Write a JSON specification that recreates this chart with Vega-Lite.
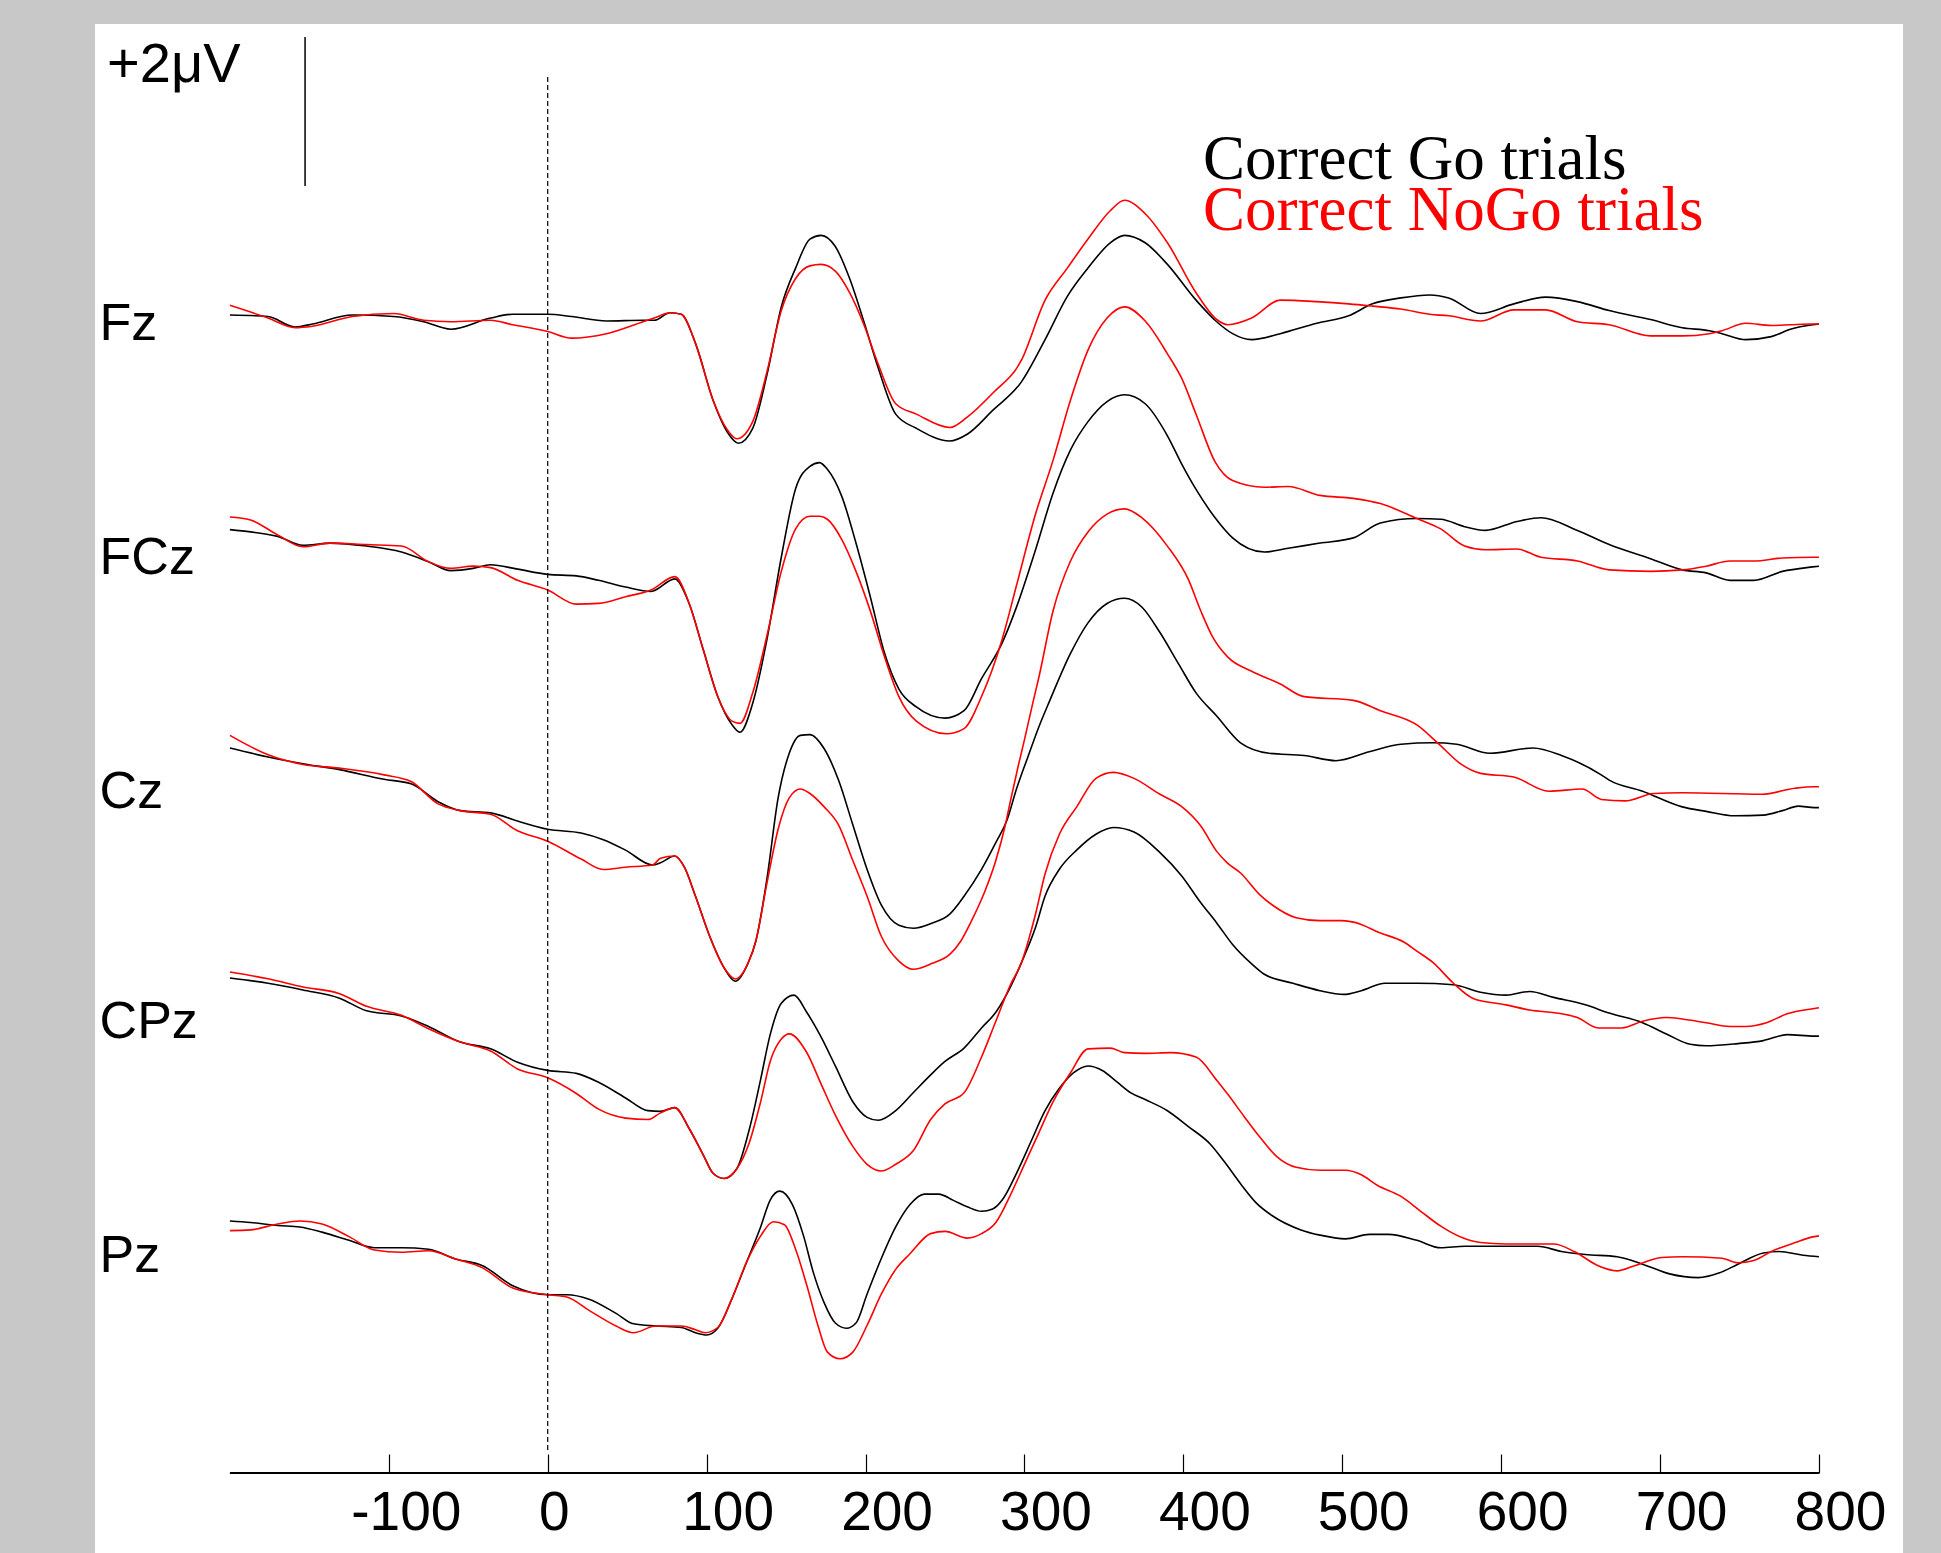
{
"$schema": "https://vega.github.io/schema/vega-lite/v6.json",
"width": 1941, "height": 1553,
"autosize": {"type": "fit", "contains": "padding"},
"padding": {"left": 95, "top": 24, "right": 38, "bottom": 0},
"background": "#c8c8c8",
"config": {"view": {"fill": "white", "stroke": null}, "axisX": {"title": null, "grid": false, "domain": false}},
"datasets": {
"Fz": [
{"c":"Go","t":-200,"v":0.08},{"c":"Go","t":-176,"v":0.06},{"c":"Go","t":-159,"v":-0.08},{"c":"Go","t":-148,"v":-0.04},{"c":"Go","t":-123,"v":0.08},{"c":"Go","t":-97,"v":0.06},{"c":"Go","t":-78,"v":-0.01},{"c":"Go","t":-61,"v":-0.11},{"c":"Go","t":-36,"v":0.04},{"c":"Go","t":-22,"v":0.09},{"c":"Go","t":0,"v":0.09},{"c":"Go","t":15,"v":0.06},{"c":"Go","t":37,"v":0.0},{"c":"Go","t":60,"v":0.01},{"c":"Go","t":67,"v":0.01},{"c":"Go","t":77,"v":0.11},{"c":"Go","t":84,"v":0.09},{"c":"Go","t":93,"v":-0.3},{"c":"Go","t":104,"v":-1.06},{"c":"Go","t":113,"v":-1.49},{"c":"Go","t":120,"v":-1.64},{"c":"Go","t":129,"v":-1.44},{"c":"Go","t":138,"v":-0.72},{"c":"Go","t":147,"v":0.19},{"c":"Go","t":156,"v":0.71},{"c":"Go","t":165,"v":1.1},{"c":"Go","t":172,"v":1.15},{"c":"Go","t":181,"v":1.0},{"c":"Go","t":190,"v":0.57},{"c":"Go","t":199,"v":-0.01},{"c":"Go","t":208,"v":-0.63},{"c":"Go","t":219,"v":-1.25},{"c":"Go","t":232,"v":-1.44},{"c":"Go","t":253,"v":-1.61},{"c":"Go","t":264,"v":-1.52},{"c":"Go","t":280,"v":-1.2},{"c":"Go","t":298,"v":-0.82},{"c":"Go","t":313,"v":-0.25},{"c":"Go","t":327,"v":0.33},{"c":"Go","t":340,"v":0.71},{"c":"Go","t":354,"v":1.05},{"c":"Go","t":363,"v":1.15},{"c":"Go","t":376,"v":1.05},{"c":"Go","t":390,"v":0.76},{"c":"Go","t":408,"v":0.28},{"c":"Go","t":421,"v":-0.01},{"c":"Go","t":431,"v":-0.17},{"c":"Go","t":443,"v":-0.25},{"c":"Go","t":461,"v":-0.17},{"c":"Go","t":484,"v":-0.03},{"c":"Go","t":504,"v":0.07},{"c":"Go","t":519,"v":0.23},{"c":"Go","t":537,"v":0.31},{"c":"Go","t":555,"v":0.35},{"c":"Go","t":567,"v":0.31},{"c":"Go","t":587,"v":0.1},{"c":"Go","t":608,"v":0.23},{"c":"Go","t":628,"v":0.32},{"c":"Go","t":648,"v":0.26},{"c":"Go","t":668,"v":0.14},{"c":"Go","t":694,"v":0.02},{"c":"Go","t":714,"v":-0.09},{"c":"Go","t":731,"v":-0.13},{"c":"Go","t":739,"v":-0.17},{"c":"Go","t":754,"v":-0.25},{"c":"Go","t":770,"v":-0.21},{"c":"Go","t":782,"v":-0.11},{"c":"Go","t":796,"v":-0.05},{"c":"Go","t":800,"v":-0.04},
{"c":"NoGo","t":-200,"v":0.21},{"c":"NoGo","t":-176,"v":0.04},{"c":"NoGo","t":-159,"v":-0.09},{"c":"NoGo","t":-148,"v":-0.07},{"c":"NoGo","t":-123,"v":0.06},{"c":"NoGo","t":-97,"v":0.1},{"c":"NoGo","t":-78,"v":0.01},{"c":"NoGo","t":-61,"v":-0.01},{"c":"NoGo","t":-36,"v":0.01},{"c":"NoGo","t":-22,"v":-0.05},{"c":"NoGo","t":0,"v":-0.14},{"c":"NoGo","t":15,"v":-0.23},{"c":"NoGo","t":37,"v":-0.17},{"c":"NoGo","t":60,"v":-0.01},{"c":"NoGo","t":67,"v":0.04},{"c":"NoGo","t":77,"v":0.11},{"c":"NoGo","t":84,"v":0.09},{"c":"NoGo","t":93,"v":-0.3},{"c":"NoGo","t":104,"v":-1.06},{"c":"NoGo","t":113,"v":-1.46},{"c":"NoGo","t":119,"v":-1.58},{"c":"NoGo","t":129,"v":-1.35},{"c":"NoGo","t":138,"v":-0.68},{"c":"NoGo","t":147,"v":0.14},{"c":"NoGo","t":156,"v":0.57},{"c":"NoGo","t":165,"v":0.74},{"c":"NoGo","t":172,"v":0.76},{"c":"NoGo","t":181,"v":0.67},{"c":"NoGo","t":190,"v":0.38},{"c":"NoGo","t":199,"v":-0.05},{"c":"NoGo","t":208,"v":-0.58},{"c":"NoGo","t":219,"v":-1.11},{"c":"NoGo","t":232,"v":-1.25},{"c":"NoGo","t":253,"v":-1.43},{"c":"NoGo","t":264,"v":-1.29},{"c":"NoGo","t":280,"v":-0.97},{"c":"NoGo","t":298,"v":-0.53},{"c":"NoGo","t":313,"v":0.28},{"c":"NoGo","t":327,"v":0.71},{"c":"NoGo","t":340,"v":1.1},{"c":"NoGo","t":354,"v":1.48},{"c":"NoGo","t":363,"v":1.62},{"c":"NoGo","t":376,"v":1.44},{"c":"NoGo","t":390,"v":1.05},{"c":"NoGo","t":408,"v":0.38},{"c":"NoGo","t":421,"v":0.02},{"c":"NoGo","t":428,"v":-0.05},{"c":"NoGo","t":443,"v":0.04},{"c":"NoGo","t":461,"v":0.28},{"c":"NoGo","t":484,"v":0.26},{"c":"NoGo","t":504,"v":0.23},{"c":"NoGo","t":519,"v":0.2},{"c":"NoGo","t":537,"v":0.16},{"c":"NoGo","t":555,"v":0.09},{"c":"NoGo","t":567,"v":0.07},{"c":"NoGo","t":587,"v":0.0},{"c":"NoGo","t":608,"v":0.15},{"c":"NoGo","t":628,"v":0.15},{"c":"NoGo","t":648,"v":-0.01},{"c":"NoGo","t":668,"v":-0.05},{"c":"NoGo","t":694,"v":-0.2},{"c":"NoGo","t":714,"v":-0.2},{"c":"NoGo","t":731,"v":-0.17},{"c":"NoGo","t":739,"v":-0.13},{"c":"NoGo","t":754,"v":-0.03},{"c":"NoGo","t":770,"v":-0.06},{"c":"NoGo","t":782,"v":-0.05},{"c":"NoGo","t":796,"v":-0.04},{"c":"NoGo","t":800,"v":-0.04}
],
"FCz": [
{"c":"Go","t":-200,"v":0.34},{"c":"Go","t":-187,"v":0.31},{"c":"Go","t":-170,"v":0.25},{"c":"Go","t":-154,"v":0.13},{"c":"Go","t":-137,"v":0.16},{"c":"Go","t":-114,"v":0.12},{"c":"Go","t":-92,"v":0.04},{"c":"Go","t":-75,"v":-0.09},{"c":"Go","t":-61,"v":-0.21},{"c":"Go","t":-47,"v":-0.18},{"c":"Go","t":-36,"v":-0.13},{"c":"Go","t":-19,"v":-0.19},{"c":"Go","t":0,"v":-0.26},{"c":"Go","t":18,"v":-0.28},{"c":"Go","t":32,"v":-0.34},{"c":"Go","t":49,"v":-0.43},{"c":"Go","t":65,"v":-0.49},{"c":"Go","t":80,"v":-0.32},{"c":"Go","t":89,"v":-0.65},{"c":"Go","t":98,"v":-1.28},{"c":"Go","t":107,"v":-1.9},{"c":"Go","t":116,"v":-2.28},{"c":"Go","t":121,"v":-2.38},{"c":"Go","t":129,"v":-1.99},{"c":"Go","t":138,"v":-1.13},{"c":"Go","t":147,"v":-0.03},{"c":"Go","t":156,"v":0.89},{"c":"Go","t":165,"v":1.19},{"c":"Go","t":171,"v":1.24},{"c":"Go","t":176,"v":1.15},{"c":"Go","t":185,"v":0.79},{"c":"Go","t":194,"v":0.16},{"c":"Go","t":203,"v":-0.56},{"c":"Go","t":212,"v":-1.32},{"c":"Go","t":221,"v":-1.8},{"c":"Go","t":232,"v":-2.04},{"c":"Go","t":250,"v":-2.19},{"c":"Go","t":262,"v":-2.09},{"c":"Go","t":273,"v":-1.66},{"c":"Go","t":286,"v":-1.18},{"c":"Go","t":295,"v":-0.7},{"c":"Go","t":307,"v":0.07},{"c":"Go","t":318,"v":0.83},{"c":"Go","t":329,"v":1.41},{"c":"Go","t":340,"v":1.79},{"c":"Go","t":352,"v":2.06},{"c":"Go","t":363,"v":2.15},{"c":"Go","t":376,"v":2.03},{"c":"Go","t":390,"v":1.6},{"c":"Go","t":399,"v":1.22},{"c":"Go","t":408,"v":0.88},{"c":"Go","t":420,"v":0.5},{"c":"Go","t":431,"v":0.23},{"c":"Go","t":451,"v":0.04},{"c":"Go","t":466,"v":0.09},{"c":"Go","t":486,"v":0.16},{"c":"Go","t":507,"v":0.23},{"c":"Go","t":524,"v":0.43},{"c":"Go","t":547,"v":0.49},{"c":"Go","t":562,"v":0.48},{"c":"Go","t":577,"v":0.38},{"c":"Go","t":590,"v":0.33},{"c":"Go","t":610,"v":0.45},{"c":"Go","t":625,"v":0.5},{"c":"Go","t":648,"v":0.33},{"c":"Go","t":668,"v":0.14},{"c":"Go","t":694,"v":-0.05},{"c":"Go","t":714,"v":-0.2},{"c":"Go","t":729,"v":-0.24},{"c":"Go","t":744,"v":-0.34},{"c":"Go","t":759,"v":-0.34},{"c":"Go","t":777,"v":-0.22},{"c":"Go","t":796,"v":-0.16},{"c":"Go","t":800,"v":-0.15},
{"c":"NoGo","t":-200,"v":0.51},{"c":"NoGo","t":-187,"v":0.47},{"c":"NoGo","t":-170,"v":0.27},{"c":"NoGo","t":-154,"v":0.11},{"c":"NoGo","t":-137,"v":0.16},{"c":"NoGo","t":-114,"v":0.14},{"c":"NoGo","t":-92,"v":0.12},{"c":"NoGo","t":-75,"v":-0.09},{"c":"NoGo","t":-61,"v":-0.18},{"c":"NoGo","t":-47,"v":-0.15},{"c":"NoGo","t":-36,"v":-0.17},{"c":"NoGo","t":-19,"v":-0.34},{"c":"NoGo","t":0,"v":-0.47},{"c":"NoGo","t":18,"v":-0.66},{"c":"NoGo","t":32,"v":-0.65},{"c":"NoGo","t":49,"v":-0.56},{"c":"NoGo","t":65,"v":-0.47},{"c":"NoGo","t":80,"v":-0.29},{"c":"NoGo","t":89,"v":-0.65},{"c":"NoGo","t":98,"v":-1.28},{"c":"NoGo","t":107,"v":-1.9},{"c":"NoGo","t":116,"v":-2.23},{"c":"NoGo","t":121,"v":-2.26},{"c":"NoGo","t":129,"v":-1.85},{"c":"NoGo","t":138,"v":-1.08},{"c":"NoGo","t":147,"v":-0.22},{"c":"NoGo","t":156,"v":0.35},{"c":"NoGo","t":165,"v":0.52},{"c":"NoGo","t":171,"v":0.52},{"c":"NoGo","t":176,"v":0.48},{"c":"NoGo","t":185,"v":0.21},{"c":"NoGo","t":194,"v":-0.22},{"c":"NoGo","t":203,"v":-0.75},{"c":"NoGo","t":212,"v":-1.37},{"c":"NoGo","t":221,"v":-1.9},{"c":"NoGo","t":232,"v":-2.23},{"c":"NoGo","t":251,"v":-2.4},{"c":"NoGo","t":262,"v":-2.33},{"c":"NoGo","t":273,"v":-1.9},{"c":"NoGo","t":286,"v":-1.13},{"c":"NoGo","t":295,"v":-0.41},{"c":"NoGo","t":307,"v":0.55},{"c":"NoGo","t":318,"v":1.27},{"c":"NoGo","t":329,"v":2.08},{"c":"NoGo","t":340,"v":2.75},{"c":"NoGo","t":352,"v":3.18},{"c":"NoGo","t":363,"v":3.33},{"c":"NoGo","t":376,"v":3.14},{"c":"NoGo","t":390,"v":2.7},{"c":"NoGo","t":399,"v":2.37},{"c":"NoGo","t":408,"v":1.89},{"c":"NoGo","t":420,"v":1.25},{"c":"NoGo","t":431,"v":1.0},{"c":"NoGo","t":451,"v":0.91},{"c":"NoGo","t":466,"v":0.92},{"c":"NoGo","t":486,"v":0.8},{"c":"NoGo","t":507,"v":0.76},{"c":"NoGo","t":524,"v":0.69},{"c":"NoGo","t":547,"v":0.49},{"c":"NoGo","t":562,"v":0.35},{"c":"NoGo","t":577,"v":0.12},{"c":"NoGo","t":590,"v":0.07},{"c":"NoGo","t":610,"v":0.08},{"c":"NoGo","t":625,"v":-0.03},{"c":"NoGo","t":648,"v":-0.08},{"c":"NoGo","t":668,"v":-0.2},{"c":"NoGo","t":694,"v":-0.22},{"c":"NoGo","t":714,"v":-0.2},{"c":"NoGo","t":729,"v":-0.15},{"c":"NoGo","t":744,"v":-0.08},{"c":"NoGo","t":759,"v":-0.08},{"c":"NoGo","t":777,"v":-0.04},{"c":"NoGo","t":796,"v":-0.03},{"c":"NoGo","t":800,"v":-0.03}
],
"Cz": [
{"c":"Go","t":-200,"v":0.55},{"c":"Go","t":-176,"v":0.43},{"c":"Go","t":-154,"v":0.34},{"c":"Go","t":-131,"v":0.26},{"c":"Go","t":-103,"v":0.13},{"c":"Go","t":-86,"v":0.07},{"c":"Go","t":-69,"v":-0.17},{"c":"Go","t":-55,"v":-0.29},{"c":"Go","t":-36,"v":-0.32},{"c":"Go","t":-19,"v":-0.43},{"c":"Go","t":0,"v":-0.54},{"c":"Go","t":21,"v":-0.59},{"c":"Go","t":35,"v":-0.68},{"c":"Go","t":49,"v":-0.82},{"c":"Go","t":66,"v":-1.02},{"c":"Go","t":71,"v":-0.99},{"c":"Go","t":80,"v":-0.9},{"c":"Go","t":86,"v":-1.05},{"c":"Go","t":93,"v":-1.44},{"c":"Go","t":102,"v":-1.98},{"c":"Go","t":111,"v":-2.4},{"c":"Go","t":118,"v":-2.58},{"c":"Go","t":126,"v":-2.34},{"c":"Go","t":131,"v":-2.04},{"c":"Go","t":138,"v":-1.2},{"c":"Go","t":145,"v":-0.12},{"c":"Go","t":152,"v":0.48},{"c":"Go","t":159,"v":0.72},{"c":"Go","t":165,"v":0.73},{"c":"Go","t":174,"v":0.54},{"c":"Go","t":183,"v":0.12},{"c":"Go","t":192,"v":-0.48},{"c":"Go","t":201,"v":-1.08},{"c":"Go","t":210,"v":-1.56},{"c":"Go","t":221,"v":-1.83},{"c":"Go","t":230,"v":-1.87},{"c":"Go","t":242,"v":-1.8},{"c":"Go","t":253,"v":-1.68},{"c":"Go","t":262,"v":-1.44},{"c":"Go","t":273,"v":-1.08},{"c":"Go","t":282,"v":-0.72},{"c":"Go","t":289,"v":-0.42},{"c":"Go","t":295,"v":0.0},{"c":"Go","t":302,"v":0.42},{"c":"Go","t":309,"v":0.83},{"c":"Go","t":316,"v":1.19},{"c":"Go","t":329,"v":1.82},{"c":"Go","t":340,"v":2.23},{"c":"Go","t":352,"v":2.49},{"c":"Go","t":363,"v":2.56},{"c":"Go","t":374,"v":2.44},{"c":"Go","t":385,"v":2.11},{"c":"Go","t":397,"v":1.68},{"c":"Go","t":408,"v":1.29},{"c":"Go","t":421,"v":0.98},{"c":"Go","t":436,"v":0.62},{"c":"Go","t":454,"v":0.48},{"c":"Go","t":476,"v":0.45},{"c":"Go","t":496,"v":0.38},{"c":"Go","t":517,"v":0.5},{"c":"Go","t":537,"v":0.6},{"c":"Go","t":557,"v":0.62},{"c":"Go","t":572,"v":0.6},{"c":"Go","t":593,"v":0.48},{"c":"Go","t":620,"v":0.55},{"c":"Go","t":638,"v":0.45},{"c":"Go","t":663,"v":0.19},{"c":"Go","t":668,"v":0.12},{"c":"Go","t":689,"v":-0.03},{"c":"Go","t":714,"v":-0.24},{"c":"Go","t":729,"v":-0.3},{"c":"Go","t":747,"v":-0.36},{"c":"Go","t":765,"v":-0.35},{"c":"Go","t":777,"v":-0.29},{"c":"Go","t":787,"v":-0.23},{"c":"Go","t":797,"v":-0.25},{"c":"Go","t":800,"v":-0.25},
{"c":"NoGo","t":-200,"v":0.72},{"c":"NoGo","t":-176,"v":0.46},{"c":"NoGo","t":-154,"v":0.33},{"c":"NoGo","t":-131,"v":0.28},{"c":"NoGo","t":-103,"v":0.19},{"c":"NoGo","t":-86,"v":0.1},{"c":"NoGo","t":-69,"v":-0.2},{"c":"NoGo","t":-55,"v":-0.29},{"c":"NoGo","t":-36,"v":-0.34},{"c":"NoGo","t":-19,"v":-0.56},{"c":"NoGo","t":0,"v":-0.7},{"c":"NoGo","t":21,"v":-0.94},{"c":"NoGo","t":35,"v":-1.08},{"c":"NoGo","t":49,"v":-1.05},{"c":"NoGo","t":66,"v":-1.02},{"c":"NoGo","t":71,"v":-0.93},{"c":"NoGo","t":80,"v":-0.9},{"c":"NoGo","t":86,"v":-1.05},{"c":"NoGo","t":93,"v":-1.44},{"c":"NoGo","t":102,"v":-1.98},{"c":"NoGo","t":111,"v":-2.4},{"c":"NoGo","t":118,"v":-2.55},{"c":"NoGo","t":126,"v":-2.34},{"c":"NoGo","t":131,"v":-2.04},{"c":"NoGo","t":138,"v":-1.26},{"c":"NoGo","t":145,"v":-0.54},{"c":"NoGo","t":152,"v":-0.12},{"c":"NoGo","t":159,"v":0.0},{"c":"NoGo","t":165,"v":-0.06},{"c":"NoGo","t":174,"v":-0.24},{"c":"NoGo","t":183,"v":-0.48},{"c":"NoGo","t":192,"v":-0.96},{"c":"NoGo","t":201,"v":-1.44},{"c":"NoGo","t":210,"v":-1.98},{"c":"NoGo","t":221,"v":-2.31},{"c":"NoGo","t":230,"v":-2.42},{"c":"NoGo","t":242,"v":-2.34},{"c":"NoGo","t":253,"v":-2.22},{"c":"NoGo","t":260,"v":-2.04},{"c":"NoGo","t":266,"v":-1.8},{"c":"NoGo","t":275,"v":-1.38},{"c":"NoGo","t":282,"v":-0.96},{"c":"NoGo","t":288,"v":-0.48},{"c":"NoGo","t":291,"v":-0.18},{"c":"NoGo","t":296,"v":0.3},{"c":"NoGo","t":300,"v":0.66},{"c":"NoGo","t":305,"v":1.13},{"c":"NoGo","t":309,"v":1.49},{"c":"NoGo","t":318,"v":2.39},{"c":"NoGo","t":329,"v":3.06},{"c":"NoGo","t":340,"v":3.45},{"c":"NoGo","t":352,"v":3.69},{"c":"NoGo","t":363,"v":3.76},{"c":"NoGo","t":374,"v":3.64},{"c":"NoGo","t":390,"v":3.26},{"c":"NoGo","t":403,"v":2.82},{"c":"NoGo","t":411,"v":2.39},{"c":"NoGo","t":418,"v":2.06},{"c":"NoGo","t":428,"v":1.77},{"c":"NoGo","t":443,"v":1.58},{"c":"NoGo","t":461,"v":1.41},{"c":"NoGo","t":476,"v":1.24},{"c":"NoGo","t":507,"v":1.19},{"c":"NoGo","t":524,"v":1.05},{"c":"NoGo","t":547,"v":0.86},{"c":"NoGo","t":560,"v":0.62},{"c":"NoGo","t":575,"v":0.33},{"c":"NoGo","t":587,"v":0.21},{"c":"NoGo","t":608,"v":0.16},{"c":"NoGo","t":630,"v":-0.03},{"c":"NoGo","t":651,"v":0.0},{"c":"NoGo","t":663,"v":-0.14},{"c":"NoGo","t":678,"v":-0.16},{"c":"NoGo","t":696,"v":-0.06},{"c":"NoGo","t":714,"v":-0.05},{"c":"NoGo","t":764,"v":-0.07},{"c":"NoGo","t":785,"v":0.01},{"c":"NoGo","t":797,"v":0.03},{"c":"NoGo","t":800,"v":0.03}
],
"CPz": [
{"c":"Go","t":-200,"v":0.55},{"c":"Go","t":-176,"v":0.48},{"c":"Go","t":-154,"v":0.39},{"c":"Go","t":-131,"v":0.28},{"c":"Go","t":-114,"v":0.11},{"c":"Go","t":-92,"v":0.04},{"c":"Go","t":-75,"v":-0.1},{"c":"Go","t":-55,"v":-0.31},{"c":"Go","t":-36,"v":-0.4},{"c":"Go","t":-19,"v":-0.58},{"c":"Go","t":0,"v":-0.69},{"c":"Go","t":18,"v":-0.73},{"c":"Go","t":32,"v":-0.85},{"c":"Go","t":49,"v":-1.06},{"c":"Go","t":63,"v":-1.23},{"c":"Go","t":71,"v":-1.24},{"c":"Go","t":80,"v":-1.19},{"c":"Go","t":89,"v":-1.47},{"c":"Go","t":98,"v":-1.83},{"c":"Go","t":104,"v":-2.07},{"c":"Go","t":111,"v":-2.14},{"c":"Go","t":119,"v":-2.01},{"c":"Go","t":127,"v":-1.47},{"c":"Go","t":134,"v":-0.81},{"c":"Go","t":140,"v":-0.21},{"c":"Go","t":147,"v":0.21},{"c":"Go","t":155,"v":0.32},{"c":"Go","t":163,"v":0.09},{"c":"Go","t":172,"v":-0.24},{"c":"Go","t":181,"v":-0.63},{"c":"Go","t":192,"v":-1.11},{"c":"Go","t":201,"v":-1.32},{"c":"Go","t":208,"v":-1.36},{"c":"Go","t":219,"v":-1.23},{"c":"Go","t":230,"v":-0.99},{"c":"Go","t":241,"v":-0.75},{"c":"Go","t":250,"v":-0.57},{"c":"Go","t":262,"v":-0.39},{"c":"Go","t":273,"v":-0.12},{"c":"Go","t":282,"v":0.09},{"c":"Go","t":291,"v":0.42},{"c":"Go","t":298,"v":0.75},{"c":"Go","t":307,"v":1.23},{"c":"Go","t":313,"v":1.65},{"c":"Go","t":322,"v":2.01},{"c":"Go","t":333,"v":2.27},{"c":"Go","t":345,"v":2.48},{"c":"Go","t":356,"v":2.57},{"c":"Go","t":369,"v":2.51},{"c":"Go","t":385,"v":2.24},{"c":"Go","t":399,"v":1.92},{"c":"Go","t":411,"v":1.56},{"c":"Go","t":421,"v":1.29},{"c":"Go","t":431,"v":1.0},{"c":"Go","t":443,"v":0.74},{"c":"Go","t":451,"v":0.6},{"c":"Go","t":469,"v":0.48},{"c":"Go","t":486,"v":0.38},{"c":"Go","t":501,"v":0.33},{"c":"Go","t":512,"v":0.38},{"c":"Go","t":527,"v":0.48},{"c":"Go","t":547,"v":0.48},{"c":"Go","t":570,"v":0.46},{"c":"Go","t":587,"v":0.36},{"c":"Go","t":603,"v":0.32},{"c":"Go","t":618,"v":0.37},{"c":"Go","t":633,"v":0.29},{"c":"Go","t":653,"v":0.19},{"c":"Go","t":668,"v":0.08},{"c":"Go","t":689,"v":-0.05},{"c":"Go","t":704,"v":-0.2},{"c":"Go","t":719,"v":-0.34},{"c":"Go","t":729,"v":-0.36},{"c":"Go","t":749,"v":-0.33},{"c":"Go","t":765,"v":-0.29},{"c":"Go","t":780,"v":-0.21},{"c":"Go","t":797,"v":-0.23},{"c":"Go","t":800,"v":-0.23},
{"c":"NoGo","t":-200,"v":0.63},{"c":"NoGo","t":-176,"v":0.54},{"c":"NoGo","t":-154,"v":0.43},{"c":"NoGo","t":-131,"v":0.34},{"c":"NoGo","t":-114,"v":0.17},{"c":"NoGo","t":-92,"v":0.05},{"c":"NoGo","t":-75,"v":-0.13},{"c":"NoGo","t":-55,"v":-0.31},{"c":"NoGo","t":-36,"v":-0.43},{"c":"NoGo","t":-19,"v":-0.67},{"c":"NoGo","t":0,"v":-0.79},{"c":"NoGo","t":18,"v":-1.0},{"c":"NoGo","t":32,"v":-1.21},{"c":"NoGo","t":49,"v":-1.33},{"c":"NoGo","t":63,"v":-1.35},{"c":"NoGo","t":71,"v":-1.26},{"c":"NoGo","t":80,"v":-1.19},{"c":"NoGo","t":89,"v":-1.47},{"c":"NoGo","t":98,"v":-1.83},{"c":"NoGo","t":104,"v":-2.07},{"c":"NoGo","t":111,"v":-2.14},{"c":"NoGo","t":119,"v":-2.01},{"c":"NoGo","t":127,"v":-1.65},{"c":"NoGo","t":134,"v":-1.11},{"c":"NoGo","t":140,"v":-0.57},{"c":"NoGo","t":147,"v":-0.27},{"c":"NoGo","t":152,"v":-0.2},{"c":"NoGo","t":163,"v":-0.45},{"c":"NoGo","t":172,"v":-0.87},{"c":"NoGo","t":181,"v":-1.29},{"c":"NoGo","t":192,"v":-1.71},{"c":"NoGo","t":201,"v":-1.95},{"c":"NoGo","t":210,"v":-2.04},{"c":"NoGo","t":219,"v":-1.95},{"c":"NoGo","t":230,"v":-1.77},{"c":"NoGo","t":241,"v":-1.35},{"c":"NoGo","t":250,"v":-1.14},{"c":"NoGo","t":262,"v":-0.99},{"c":"NoGo","t":273,"v":-0.51},{"c":"NoGo","t":282,"v":-0.03},{"c":"NoGo","t":291,"v":0.45},{"c":"NoGo","t":298,"v":0.75},{"c":"NoGo","t":307,"v":1.41},{"c":"NoGo","t":313,"v":1.95},{"c":"NoGo","t":322,"v":2.48},{"c":"NoGo","t":333,"v":2.85},{"c":"NoGo","t":345,"v":3.23},{"c":"NoGo","t":356,"v":3.31},{"c":"NoGo","t":369,"v":3.23},{"c":"NoGo","t":385,"v":3.02},{"c":"NoGo","t":399,"v":2.85},{"c":"NoGo","t":411,"v":2.59},{"c":"NoGo","t":421,"v":2.25},{"c":"NoGo","t":428,"v":2.09},{"c":"NoGo","t":436,"v":1.96},{"c":"NoGo","t":448,"v":1.67},{"c":"NoGo","t":456,"v":1.53},{"c":"NoGo","t":471,"v":1.36},{"c":"NoGo","t":486,"v":1.32},{"c":"NoGo","t":499,"v":1.32},{"c":"NoGo","t":512,"v":1.27},{"c":"NoGo","t":522,"v":1.17},{"c":"NoGo","t":539,"v":1.03},{"c":"NoGo","t":547,"v":0.91},{"c":"NoGo","t":557,"v":0.76},{"c":"NoGo","t":570,"v":0.48},{"c":"NoGo","t":582,"v":0.28},{"c":"NoGo","t":603,"v":0.19},{"c":"NoGo","t":618,"v":0.12},{"c":"NoGo","t":638,"v":0.07},{"c":"NoGo","t":648,"v":0.02},{"c":"NoGo","t":661,"v":-0.12},{"c":"NoGo","t":676,"v":-0.12},{"c":"NoGo","t":689,"v":-0.03},{"c":"NoGo","t":704,"v":0.02},{"c":"NoGo","t":714,"v":0.0},{"c":"NoGo","t":729,"v":-0.05},{"c":"NoGo","t":744,"v":-0.1},{"c":"NoGo","t":754,"v":-0.1},{"c":"NoGo","t":767,"v":-0.05},{"c":"NoGo","t":780,"v":0.07},{"c":"NoGo","t":797,"v":0.14},{"c":"NoGo","t":800,"v":0.15}
],
"Pz": [
{"c":"Go","t":-200,"v":0.43},{"c":"Go","t":-187,"v":0.41},{"c":"Go","t":-170,"v":0.37},{"c":"Go","t":-156,"v":0.35},{"c":"Go","t":-142,"v":0.28},{"c":"Go","t":-125,"v":0.17},{"c":"Go","t":-109,"v":0.07},{"c":"Go","t":-92,"v":0.07},{"c":"Go","t":-75,"v":0.05},{"c":"Go","t":-58,"v":-0.08},{"c":"Go","t":-41,"v":-0.17},{"c":"Go","t":-22,"v":-0.44},{"c":"Go","t":0,"v":-0.56},{"c":"Go","t":12,"v":-0.56},{"c":"Go","t":26,"v":-0.62},{"c":"Go","t":43,"v":-0.81},{"c":"Go","t":54,"v":-0.95},{"c":"Go","t":68,"v":-0.98},{"c":"Go","t":84,"v":-1.0},{"c":"Go","t":93,"v":-1.07},{"c":"Go","t":100,"v":-1.1},{"c":"Go","t":107,"v":-1.01},{"c":"Go","t":116,"v":-0.61},{"c":"Go","t":125,"v":-0.13},{"c":"Go","t":134,"v":0.35},{"c":"Go","t":140,"v":0.71},{"c":"Go","t":146,"v":0.83},{"c":"Go","t":154,"v":0.65},{"c":"Go","t":161,"v":0.23},{"c":"Go","t":167,"v":-0.25},{"c":"Go","t":174,"v":-0.67},{"c":"Go","t":181,"v":-0.94},{"c":"Go","t":188,"v":-1.01},{"c":"Go","t":194,"v":-0.94},{"c":"Go","t":201,"v":-0.55},{"c":"Go","t":210,"v":-0.07},{"c":"Go","t":219,"v":0.35},{"c":"Go","t":228,"v":0.65},{"c":"Go","t":237,"v":0.79},{"c":"Go","t":246,"v":0.79},{"c":"Go","t":255,"v":0.71},{"c":"Go","t":264,"v":0.62},{"c":"Go","t":273,"v":0.56},{"c":"Go","t":280,"v":0.59},{"c":"Go","t":286,"v":0.71},{"c":"Go","t":295,"v":1.07},{"c":"Go","t":304,"v":1.49},{"c":"Go","t":313,"v":1.91},{"c":"Go","t":322,"v":2.21},{"c":"Go","t":331,"v":2.42},{"c":"Go","t":340,"v":2.51},{"c":"Go","t":349,"v":2.45},{"c":"Go","t":358,"v":2.3},{"c":"Go","t":367,"v":2.15},{"c":"Go","t":376,"v":2.06},{"c":"Go","t":390,"v":1.91},{"c":"Go","t":403,"v":1.7},{"c":"Go","t":417,"v":1.46},{"c":"Go","t":426,"v":1.22},{"c":"Go","t":436,"v":0.93},{"c":"Go","t":446,"v":0.67},{"c":"Go","t":456,"v":0.5},{"c":"Go","t":474,"v":0.31},{"c":"Go","t":486,"v":0.24},{"c":"Go","t":502,"v":0.19},{"c":"Go","t":517,"v":0.25},{"c":"Go","t":529,"v":0.25},{"c":"Go","t":547,"v":0.17},{"c":"Go","t":562,"v":0.07},{"c":"Go","t":577,"v":0.09},{"c":"Go","t":603,"v":0.09},{"c":"Go","t":623,"v":0.09},{"c":"Go","t":638,"v":0.02},{"c":"Go","t":653,"v":-0.02},{"c":"Go","t":673,"v":-0.05},{"c":"Go","t":689,"v":-0.15},{"c":"Go","t":706,"v":-0.28},{"c":"Go","t":724,"v":-0.33},{"c":"Go","t":737,"v":-0.27},{"c":"Go","t":749,"v":-0.15},{"c":"Go","t":765,"v":0.0},{"c":"Go","t":775,"v":0.02},{"c":"Go","t":790,"v":-0.03},{"c":"Go","t":800,"v":-0.05},
{"c":"NoGo","t":-200,"v":0.3},{"c":"NoGo","t":-187,"v":0.31},{"c":"NoGo","t":-170,"v":0.39},{"c":"NoGo","t":-156,"v":0.43},{"c":"NoGo","t":-142,"v":0.39},{"c":"NoGo","t":-125,"v":0.22},{"c":"NoGo","t":-109,"v":0.04},{"c":"NoGo","t":-92,"v":0.01},{"c":"NoGo","t":-75,"v":0.03},{"c":"NoGo","t":-58,"v":-0.08},{"c":"NoGo","t":-41,"v":-0.2},{"c":"NoGo","t":-22,"v":-0.47},{"c":"NoGo","t":0,"v":-0.56},{"c":"NoGo","t":12,"v":-0.59},{"c":"NoGo","t":26,"v":-0.77},{"c":"NoGo","t":43,"v":-0.98},{"c":"NoGo","t":54,"v":-1.07},{"c":"NoGo","t":68,"v":-0.98},{"c":"NoGo","t":84,"v":-0.98},{"c":"NoGo","t":93,"v":-1.03},{"c":"NoGo","t":99,"v":-1.07},{"c":"NoGo","t":107,"v":-1.0},{"c":"NoGo","t":116,"v":-0.61},{"c":"NoGo","t":125,"v":-0.13},{"c":"NoGo","t":134,"v":0.23},{"c":"NoGo","t":142,"v":0.42},{"c":"NoGo","t":149,"v":0.38},{"c":"NoGo","t":156,"v":0.05},{"c":"NoGo","t":163,"v":-0.43},{"c":"NoGo","t":170,"v":-0.97},{"c":"NoGo","t":176,"v":-1.33},{"c":"NoGo","t":184,"v":-1.42},{"c":"NoGo","t":192,"v":-1.33},{"c":"NoGo","t":201,"v":-0.97},{"c":"NoGo","t":210,"v":-0.55},{"c":"NoGo","t":219,"v":-0.22},{"c":"NoGo","t":228,"v":-0.01},{"c":"NoGo","t":241,"v":0.26},{"c":"NoGo","t":250,"v":0.29},{"c":"NoGo","t":264,"v":0.2},{"c":"NoGo","t":273,"v":0.26},{"c":"NoGo","t":282,"v":0.41},{"c":"NoGo","t":291,"v":0.77},{"c":"NoGo","t":300,"v":1.19},{"c":"NoGo","t":309,"v":1.61},{"c":"NoGo","t":318,"v":2.03},{"c":"NoGo","t":329,"v":2.42},{"c":"NoGo","t":340,"v":2.74},{"c":"NoGo","t":354,"v":2.75},{"c":"NoGo","t":363,"v":2.69},{"c":"NoGo","t":376,"v":2.68},{"c":"NoGo","t":392,"v":2.69},{"c":"NoGo","t":408,"v":2.63},{"c":"NoGo","t":421,"v":2.32},{"c":"NoGo","t":428,"v":2.13},{"c":"NoGo","t":438,"v":1.84},{"c":"NoGo","t":448,"v":1.56},{"c":"NoGo","t":459,"v":1.29},{"c":"NoGo","t":471,"v":1.15},{"c":"NoGo","t":486,"v":1.11},{"c":"NoGo","t":502,"v":1.11},{"c":"NoGo","t":512,"v":1.05},{"c":"NoGo","t":522,"v":0.91},{"c":"NoGo","t":537,"v":0.76},{"c":"NoGo","t":550,"v":0.55},{"c":"NoGo","t":562,"v":0.36},{"c":"NoGo","t":575,"v":0.21},{"c":"NoGo","t":587,"v":0.14},{"c":"NoGo","t":603,"v":0.12},{"c":"NoGo","t":633,"v":0.12},{"c":"NoGo","t":646,"v":0.02},{"c":"NoGo","t":661,"v":-0.17},{"c":"NoGo","t":673,"v":-0.24},{"c":"NoGo","t":684,"v":-0.17},{"c":"NoGo","t":701,"v":-0.06},{"c":"NoGo","t":714,"v":-0.05},{"c":"NoGo","t":739,"v":-0.07},{"c":"NoGo","t":749,"v":-0.13},{"c":"NoGo","t":759,"v":-0.1},{"c":"NoGo","t":770,"v":0.02},{"c":"NoGo","t":785,"v":0.14},{"c":"NoGo","t":797,"v":0.22},{"c":"NoGo","t":800,"v":0.23}
]
},
"layer": [
{"data": {"name": "Fz"},
 "layer": [
  {"mark": {"type": "line", "interpolate": "monotone", "strokeWidth": 1.6},
   "encoding": {"x": {"field": "t", "type": "quantitative", "scale": {"domain": [-284.9, 852.9], "nice": false, "zero": false},
      "axis": {"orient": "bottom", "offset": -80, "values": [-100, 0, 100, 200, 300, 400, 500, 600, 700, 800], "domain": false, "grid": false, "ticks": true, "tickSize": -19, "tickWidth": 1.2, "tickColor": "#000000", "labelFont": "Liberation Sans", "labelFontSize": 55, "labelColor": "#000000", "labelPadding": 32, "labelBaseline": "top", "labelAlign": "center", "labelOffset": {"expr": "datum.value == 0 ? 6 : (datum.value < 0 ? 17 : 21)"}, "labelExpr": "'' + datum.value", "labelFlush": false, "labelOverlap": false, "labelBound": false, "title": null}},
    "y": {"field": "v", "type": "quantitative", "scale": {"domain": [-16.5369, 3.9866], "nice": false, "zero": false}, "axis": null},
    "color": {"field": "c", "type": "nominal", "scale": {"domain": ["Go", "NoGo"], "range": ["#000000", "#ff0000"]}, "legend": null}}},
  {"data": {"values": [{"lab": "Fz"}]},
   "mark": {"type": "text", "align": "left", "baseline": "alphabetic", "dy": 18.6, "font": "Liberation Sans", "fontSize": 52, "color": "#000000"},
   "encoding": {"x": {"datum": -282, "type": "quantitative"}, "y": {"datum": 0, "type": "quantitative", "axis": null}, "text": {"field": "lab"}}}
 ]},
{"data": {"name": "FCz"},
 "layer": [
  {"mark": {"type": "line", "interpolate": "monotone", "strokeWidth": 1.6},
   "encoding": {"x": {"field": "t", "type": "quantitative"},
    "y": {"field": "v", "type": "quantitative", "scale": {"domain": [-13.396, 7.1275], "nice": false, "zero": false}, "axis": null},
    "color": {"field": "c", "type": "nominal", "legend": null}}},
  {"data": {"values": [{"lab": "FCz"}]},
   "mark": {"type": "text", "align": "left", "baseline": "alphabetic", "dy": 18.6, "font": "Liberation Sans", "fontSize": 52, "color": "#000000"},
   "encoding": {"x": {"datum": -282, "type": "quantitative"}, "y": {"datum": 0, "type": "quantitative", "axis": null}, "text": {"field": "lab"}}}
 ]},
{"data": {"name": "Cz"},
 "layer": [
  {"mark": {"type": "line", "interpolate": "monotone", "strokeWidth": 1.6},
   "encoding": {"x": {"field": "t", "type": "quantitative"},
    "y": {"field": "v", "type": "quantitative", "scale": {"domain": [-10.255, 10.2685], "nice": false, "zero": false}, "axis": null},
    "color": {"field": "c", "type": "nominal", "legend": null}}},
  {"data": {"values": [{"lab": "Cz"}]},
   "mark": {"type": "text", "align": "left", "baseline": "alphabetic", "dy": 18.6, "font": "Liberation Sans", "fontSize": 52, "color": "#000000"},
   "encoding": {"x": {"datum": -282, "type": "quantitative"}, "y": {"datum": 0, "type": "quantitative", "axis": null}, "text": {"field": "lab"}}}
 ]},
{"data": {"name": "CPz"},
 "layer": [
  {"mark": {"type": "line", "interpolate": "monotone", "strokeWidth": 1.6},
   "encoding": {"x": {"field": "t", "type": "quantitative"},
    "y": {"field": "v", "type": "quantitative", "scale": {"domain": [-7.1678, 13.3557], "nice": false, "zero": false}, "axis": null},
    "color": {"field": "c", "type": "nominal", "legend": null}}},
  {"data": {"values": [{"lab": "CPz"}]},
   "mark": {"type": "text", "align": "left", "baseline": "alphabetic", "dy": 18.6, "font": "Liberation Sans", "fontSize": 52, "color": "#000000"},
   "encoding": {"x": {"datum": -282, "type": "quantitative"}, "y": {"datum": 0, "type": "quantitative", "axis": null}, "text": {"field": "lab"}}}
 ]},
{"data": {"name": "Pz"},
 "layer": [
  {"mark": {"type": "line", "interpolate": "monotone", "strokeWidth": 1.6},
   "encoding": {"x": {"field": "t", "type": "quantitative"},
    "y": {"field": "v", "type": "quantitative", "scale": {"domain": [-4.0268, 16.4966], "nice": false, "zero": false}, "axis": null},
    "color": {"field": "c", "type": "nominal", "legend": null}}},
  {"data": {"values": [{"lab": "Pz"}]},
   "mark": {"type": "text", "align": "left", "baseline": "alphabetic", "dy": 18.6, "font": "Liberation Sans", "fontSize": 52, "color": "#000000"},
   "encoding": {"x": {"datum": -282, "type": "quantitative"}, "y": {"datum": 0, "type": "quantitative", "axis": null}, "text": {"field": "lab"}}}
 ]},
{"data": {"values": [{}]},
 "layer": [
  {"mark": {"type": "rule", "strokeDash": [5, 3], "strokeWidth": 1.2, "color": "#000000"},
   "encoding": {"x": {"datum": 0, "type": "quantitative"},
    "y": {"datum": 0.31, "type": "quantitative", "scale": {"domain": [-1.0738, 19.4497], "nice": false, "zero": false}, "axis": null},
    "y2": {"datum": 18.765}}},
  {"mark": {"type": "rule", "strokeWidth": 1.5, "color": "#000000"},
   "encoding": {"x": {"datum": -152.7, "type": "quantitative"},
    "y": {"datum": 17.275, "type": "quantitative", "axis": null},
    "y2": {"datum": 19.275}}},
  {"mark": {"type": "text", "text": "+2μV", "align": "left", "baseline": "alphabetic", "font": "Liberation Sans", "fontSize": 56, "color": "#000000"},
   "encoding": {"x": {"datum": -277.3, "type": "quantitative"}, "y": {"datum": 18.671, "type": "quantitative", "axis": null}}},
  {"mark": {"type": "text", "text": "Correct Go trials", "align": "left", "baseline": "alphabetic", "font": "Liberation Serif", "fontSize": 63, "color": "#000000"},
   "encoding": {"x": {"datum": 412.4, "type": "quantitative"}, "y": {"datum": 17.37, "type": "quantitative", "axis": null}}},
  {"mark": {"type": "text", "text": "Correct NoGo trials", "align": "left", "baseline": "alphabetic", "font": "Liberation Serif", "fontSize": 63, "color": "#ff0000"},
   "encoding": {"x": {"datum": 412.4, "type": "quantitative"}, "y": {"datum": 16.685, "type": "quantitative", "axis": null}}},
  {"mark": {"type": "rule", "strokeWidth": 2, "color": "#000000"},
   "encoding": {"x": {"datum": -200, "type": "quantitative"},
    "x2": {"datum": 800},
    "y": {"datum": 0, "type": "quantitative", "axis": null}}}
 ]}
],
"resolve": {"scale": {"y": "independent"}}
}
